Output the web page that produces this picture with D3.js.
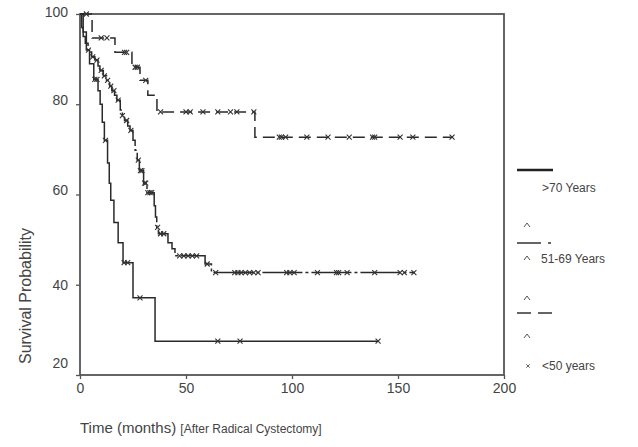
<!DOCTYPE html>
<html>
<head>
<meta charset="utf-8">
<script src="https://cdn.jsdelivr.net/npm/d3@7"></script>
<style>
  body { margin: 0; background: #fff; }
  text { font-family: "Liberation Sans", Arial, sans-serif; fill: #444; }
</style>
</head>
<body>
<div id="chart"></div>
<script>
// survival data (time in months, survival in %)
var youngStepT = [5.7, 16.5, 24.5, 28.3, 32, 36.3, 82.5];
var youngStepS = [94.7, 91.5, 88.2, 85.3, 82, 78.3, 72.7];
var youngEnd = 176;
var youngCensor = [3, 10, 12.7, 21, 22, 26, 27, 31, 38, 50, 52, 58, 65, 71, 74, 82,
  94, 95, 97, 107, 117, 127, 138, 139, 151, 157, 175.5];

var midStepT = [0.8, 1.5, 2.5, 3.8, 5.5, 7, 8.5, 9.4, 11, 12.5, 14, 15, 16.3, 17.4, 19, 20,
  21, 22.5, 23.6, 25, 26, 27, 28, 30, 31.6, 35, 35.6, 36.2, 37, 41.5, 43.4, 44.8, 59, 62];
var midStepS = [97, 95, 93.5, 92, 90.5, 89.8, 88.5, 87.5, 86.3, 85.3, 84, 83, 82, 80.9, 78.7, 77.5,
  76.4, 75.2, 74.2, 72, 69.8, 67.6, 65.3, 62.5, 60.4, 57.5, 55, 52.7, 51.3, 49.3, 48, 46.4, 44.6, 42.7];
var midEnd = 158;
var midCensor = [4, 6, 8, 10, 11.5, 13, 14.5, 16, 18, 20, 22, 24, 27.5, 28.5, 29.2, 30.5, 31, 32, 33,
  33.8, 36.6, 38, 39.5, 47, 49, 51, 53, 55, 60, 64, 73, 74.5, 76, 78, 80, 82, 84, 97.5, 99, 101,
  112, 121, 122, 126, 139, 151, 153, 157.5];

var oldStepT = [1.5, 3, 4.5, 6.5, 8.5, 9.5, 10.5, 11.5, 13, 13.8, 14.5, 16, 18, 20.3, 25, 35.4];
var oldStepS = [96, 92, 89, 85.5, 83, 80, 76, 72, 67, 62.5, 58.7, 53.8, 49.3, 44.9, 37.1, 27.5];
var oldEnd = 140.6;
var oldCensor = [7, 8, 12, 20.8, 22.5, 28.3, 65, 75.5, 140.6];

var xTicks = [0, 50, 100, 150, 200];
var yTicks = [20, 40, 60, 80, 100];
var legendLabels = [">70 Years", "51-69 Years", "<50 years"];

var width = 638, height = 447;
var plotLeft = 80, plotRight = 504, plotTop = 14, plotBottom = 375;

var svg = d3.select("#chart").append("svg")
  .attr("width", width)
  .attr("height", height);

var x = d3.scaleLinear().domain([0, 200]).range([plotLeft, plotRight]);
var y = d3.scaleLinear().domain([20, 100]).range([plotBottom, plotTop]);

// frame
svg.append("rect")
  .attr("x", plotLeft).attr("y", plotTop)
  .attr("width", plotRight - plotLeft).attr("height", plotBottom - plotTop)
  .attr("fill", "none").attr("stroke", "#555").attr("stroke-width", 1.8);

// axes
var xAxis = svg.append("g")
  .attr("transform", "translate(0," + plotBottom + ")")
  .call(d3.axisBottom(x).tickValues(xTicks).tickSize(4).tickPadding(4));
var yAxis = svg.append("g")
  .attr("transform", "translate(" + plotLeft + ",0)")
  .call(d3.axisLeft(y).tickValues(yTicks).tickSize(4).tickPadding(8));

[xAxis, yAxis].forEach(function(g) {
  g.select(".domain").remove();
  g.selectAll(".tick line").attr("stroke", "#555").attr("stroke-width", 1.3);
  g.selectAll(".tick text")
    .attr("font-family", "Liberation Sans, Arial, sans-serif")
    .attr("font-size", 14)
    .attr("fill", "#444");
});
yAxis.selectAll(".tick text").attr("dy", function(d) {
  return d === 20 ? "-0.55em" : (d === 40 ? "0.32em" : (d === 100 ? "0.2em" : "0.0em"));
});

// step function helpers
function survAt(ts, ss, t) {
  var s = 100;
  for (var i = 0; i < ts.length; i++) {
    if (ts[i] <= t) s = ss[i];
  }
  return s;
}
function stepPath(ts, ss, end) {
  var p = "M" + x(0) + "," + y(100);
  for (var i = 0; i < ts.length; i++) {
    p += "H" + x(ts[i]) + "V" + y(ss[i]);
  }
  p += "H" + x(end);
  return p;
}
var cross = "M-2.5,-2.5L2.5,2.5M2.5,-2.5L-2.5,2.5";

var curves = [
  { t: oldStepT, s: oldStepS, end: oldEnd, c: oldCensor, dash: null },
  { t: midStepT, s: midStepS, end: midEnd, c: midCensor, dash: "40,3,3,3" },
  { t: youngStepT, s: youngStepS, end: youngEnd, c: youngCensor, dash: "12,6" }
];

curves.forEach(function(cv) {
  svg.append("path")
    .attr("d", stepPath(cv.t, cv.s, cv.end))
    .attr("fill", "none")
    .attr("stroke", "#2a2a2a")
    .attr("stroke-width", 1.5)
    .attr("stroke-dasharray", cv.dash);
  svg.selectAll(null)
    .data(cv.c)
    .enter()
    .append("path")
    .attr("d", cross)
    .attr("transform", function(d) {
      return "translate(" + x(d) + "," + y(survAt(cv.t, cv.s, d)) + ")";
    })
    .attr("fill", "none")
    .attr("stroke", "#333")
    .attr("stroke-width", 1.1);
});

// axis titles
svg.append("text")
  .attr("transform", "translate(31,296)rotate(-90)")
  .attr("text-anchor", "middle")
  .attr("font-size", 16)
  .text("Survival Probability");

var xt = svg.append("text")
  .attr("x", 80).attr("y", 433)
  .attr("font-size", 15);
xt.append("tspan").text("Time (months) ");
xt.append("tspan")
  .attr("font-size", 12)
  .attr("font-family", "Liberation Sans Narrow, Arial Narrow, sans-serif")
  .text("[After Radical Cystectomy]");

// legend (copied as drawn, symbols and all)
var lg = svg.append("g");
function chevron(cx, cy) {
  lg.append("path")
    .attr("d", "M" + (cx - 3) + "," + (cy + 2) + "L" + cx + "," + (cy - 2) + "L" + (cx + 3) + "," + (cy + 2))
    .attr("fill", "none").attr("stroke", "#555").attr("stroke-width", 1);
}
lg.append("line")
  .attr("x1", 517).attr("x2", 553).attr("y1", 170).attr("y2", 170)
  .attr("stroke", "#222").attr("stroke-width", 2.5);
lg.append("text").attr("x", 542).attr("y", 192).attr("font-size", 12).text(legendLabels[0]);

chevron(527, 225);
lg.append("line")
  .attr("x1", 517).attr("x2", 553).attr("y1", 243).attr("y2", 243)
  .attr("stroke", "#333").attr("stroke-width", 1.3)
  .attr("stroke-dasharray", "24,7,3,10");
chevron(527, 258);
lg.append("text").attr("x", 541).attr("y", 263).attr("font-size", 12).text(legendLabels[1]);

chevron(527, 298);
lg.append("line")
  .attr("x1", 517).attr("x2", 553).attr("y1", 313).attr("y2", 313)
  .attr("stroke", "#333").attr("stroke-width", 1.3)
  .attr("stroke-dasharray", "14,7");
chevron(527, 336);
lg.append("path")
  .attr("d", cross)
  .attr("transform", "translate(528,366) scale(0.7)")
  .attr("fill", "none").attr("stroke", "#555").attr("stroke-width", 1.3);
lg.append("text").attr("x", 542).attr("y", 370).attr("font-size", 12).text(legendLabels[2]);
</script>
</body>
</html>
